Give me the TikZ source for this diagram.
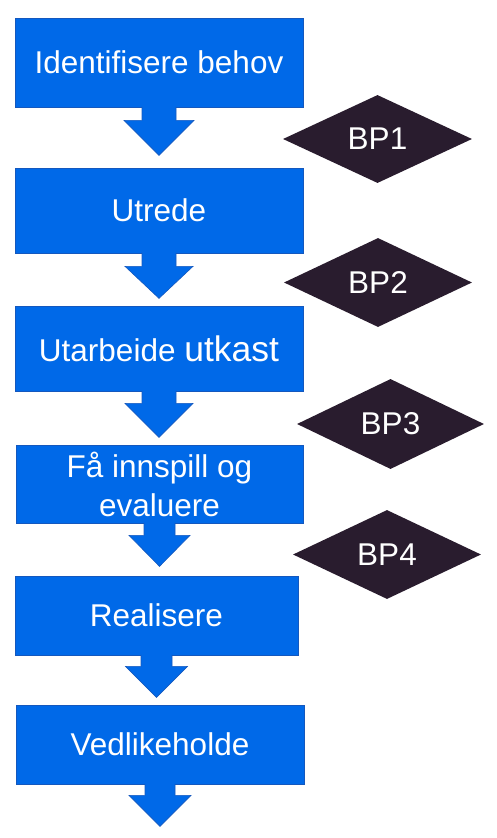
\documentclass[tikz,border=0pt]{standalone}
\usepackage{fontspec}
\setmainfont{Liberation Sans}
\usetikzlibrary{shapes.geometric,calc}
\definecolor{boxblue}{RGB}{0,105,232}
\definecolor{boxline}{RGB}{20,88,190}
\definecolor{dmfill}{RGB}{41,28,46}
\newcommand{\blockarr}[5]{%
  \path[arrshape] ($(#1.south)+(-#2,-0.6)$) -- ++(0,#3+0.6) -- ++(#2-#4,0) -- ++(#4,#5) -- ++(#4,-#5) -- ++(#2-#4,0) -- ++(0,-#3-0.6);}
\begin{document}
\begin{tikzpicture}[x=1pt,y=-1pt,
  stepbox/.style={rectangle,fill=boxblue,draw=boxline,line width=0.7pt,
    text=white,inner sep=0pt,align=center,
    font=\fontsize{31.5}{39}\selectfont},
  bpdiamond/.style={diamond,fill=dmfill,draw=none,inner sep=0pt,text=white,
    font=\fontsize{31.5}{38}\selectfont},
  arrshape/.style={fill=boxblue,draw=boxline,line width=0.6pt,line join=miter}]
\useasboundingbox (0,0) rectangle (497,838);
\fill[white] (0,0) rectangle (497,838);

\node[stepbox,minimum width=288pt,minimum height=89pt] (b1) at (159,62.5) {Identifisere behov};
\node[stepbox,minimum width=288pt,minimum height=85pt] (b2) at (159,210.5) {Utrede};
\node[stepbox,minimum width=288pt,minimum height=85pt] (b3) at (159,348.5) {Utarbeide {\fontsize{35.5}{40}\selectfont utkast}};
\node[stepbox,minimum width=287pt,minimum height=78pt] (b4) at (159.5,484) {\raisebox{0pt}{F\r{a} innspill og}\\evaluere};
\node[stepbox,minimum width=283pt,minimum height=79pt] (b5) at (156.5,615.5) {Realisere};
\node[stepbox,minimum width=288pt,minimum height=79pt] (b6) at (160,744.5) {Vedlikeholde};

\blockarr{b1}{17}{13}{35}{35}
\blockarr{b2}{17}{13}{34}{32}
\blockarr{b3}{17}{12}{34}{34}
\blockarr{b4}{15.5}{12}{30.5}{31}
\blockarr{b5}{15.5}{11}{31}{31}
\blockarr{b6}{15}{11}{31}{31}

\node[bpdiamond,minimum width=189pt,minimum height=88pt] (d1) at (377.5,139) {BP1};
\node[bpdiamond,minimum width=188pt,minimum height=89pt] (d2) at (378,282.5) {BP2};
\node[bpdiamond,minimum width=187pt,minimum height=90pt] (d3) at (390.5,424) {BP3};
\node[bpdiamond,minimum width=188pt,minimum height=89pt] (d4) at (387,554.5) {BP4};
\end{tikzpicture}
\end{document}
